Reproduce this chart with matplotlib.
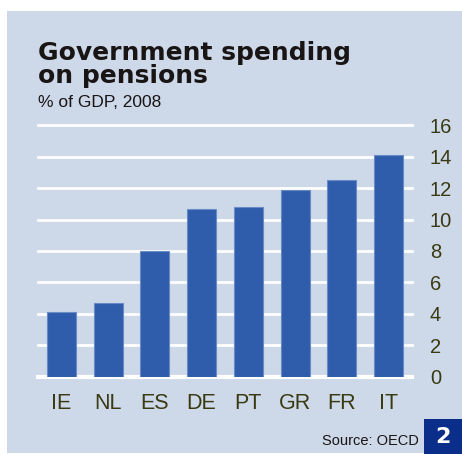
import numpy as np
import matplotlib.pyplot as plt
from matplotlib.patches import Rectangle

countries = ['IE', 'NL', 'ES', 'DE', 'PT', 'GR', 'FR', 'IT']
spending = [4.1, 4.7, 8.0, 10.7, 10.8, 11.9, 12.5, 14.1]
yticks = [0, 2, 4, 6, 8, 10, 12, 14, 16]

bg = '#cdd8e9'
bar_col = '#2f5dab'
txt_col = '#3a3a12'

fig = plt.figure(figsize=(4.62, 4.54), dpi=100)
fig.patch.set_facecolor('white')
# shaded panel behind everything
fig.patches.append(Rectangle((7 / 462, 1 / 454), 1, 442 / 454, transform=fig.transFigure,
                             facecolor=bg, edgecolor='none', zorder=-2))

ax = fig.add_axes([38.3 / 462, 77.3 / 454, 373.4 / 462, 251.4 / 454])
ax.set_facecolor('none')
ind = np.arange(len(countries))
for y in yticks:
    ax.axhline(y, color='white', lw=3 if y == 0 else 2, clip_on=False, zorder=1)
ax.bar(ind, spending, 0.62, color=bar_col, edgecolor='#6a8cc6', linewidth=0.8, zorder=2)

ax.set_xlim(-0.49, len(countries) - 0.51)
ax.set_ylim(0, 16)
ax.yaxis.tick_right()
ax.set_yticks(yticks)
ax.set_xticks(ind)
ax.set_xticklabels(countries)
ax.tick_params(length=0, labelcolor=txt_col)
ax.tick_params(axis='y', pad=13, labelsize=14.5)
ax.tick_params(axis='x', pad=12, labelsize=15.5)
for lab in ax.get_xticklabels() + ax.get_yticklabels():
    lab.set_family('Liberation Sans')
for s in ax.spines.values():
    s.set_visible(False)

fig.text(38 / 462, 1 - 83 / 454, 'Government spending\non pensions', fontsize=18,
         fontweight='bold', family='DejaVu Sans', color='#1a1515',
         va='baseline', linespacing=0.95)
fig.text(38 / 462, 1 - 107 / 454, '% of GDP, 2008', fontsize=12.5,
         family='Liberation Sans', color='#1a1515', va='baseline')

fig.text(419 / 462, 1 - 445 / 454, 'Source: OECD', fontsize=10.5,
         family='Liberation Sans', color='#1a1515', ha='right', va='baseline')
fig.patches.append(Rectangle((424 / 462, 0), 38 / 462, 35 / 454, transform=fig.transFigure,
                             facecolor='#0b2e8a', edgecolor='none', zorder=-1))
fig.text(443 / 462, 17 / 454, '2', fontsize=16, fontweight='bold', family='DejaVu Sans',
         color='white', ha='center', va='center')

fig.savefig('out.png', dpi=100, facecolor=fig.get_facecolor())
